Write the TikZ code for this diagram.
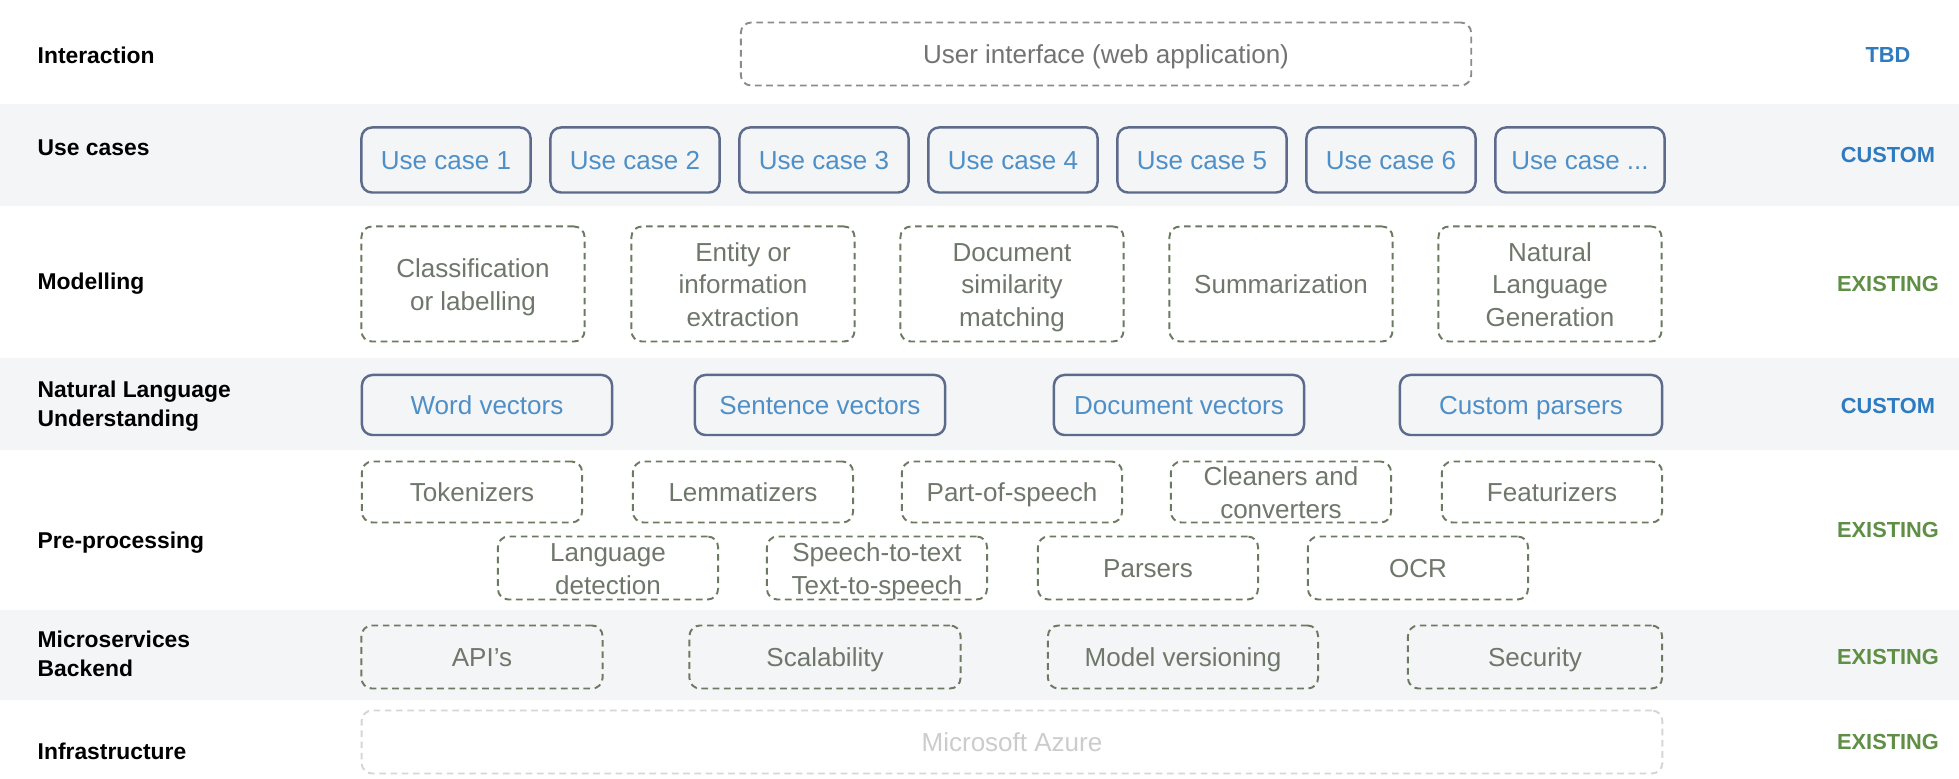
\documentclass[tikz,border=0pt]{standalone}
\usepackage{fontspec}
\setmainfont{Liberation Sans}
\definecolor{bandgray}{HTML}{F4F5F6}
\definecolor{exline}{HTML}{6C7A62}
\definecolor{extext}{HTML}{6F776B}
\definecolor{culine}{HTML}{5C6A8C}
\definecolor{cutext}{HTML}{4F8FC7}
\definecolor{tagblue}{HTML}{2E7BC0}
\definecolor{taggreen}{HTML}{5E8F45}
\definecolor{uiline}{HTML}{8C8C8C}
\definecolor{azline}{HTML}{D6D6D6}
\tikzset{
  layer/.style={anchor=west,inner sep=0pt,font=\fontsize{6.5}{8.5}\selectfont\bfseries},
  tag/.style={inner sep=0pt,font=\fontsize{6.2}{7.5}\selectfont\bfseries},
  boxtext/.style={inner sep=0pt,font=\fontsize{7.4}{9.25}\selectfont,text height=5.4pt,text depth=0pt},
  exbox/.style={boxtext,draw=exline,text=extext,dash pattern=on 1.9pt off 1.3pt,line width=0.55pt,rounded corners=3pt},
  cubox/.style={boxtext,draw=culine,text=cutext,line width=0.7pt,rounded corners=3pt},
}
\begin{document}
\begin{tikzpicture}[x=0.01cm,y=-0.01cm]
\useasboundingbox (0,0) rectangle (1959,779);
\fill[white] (0,0) rectangle (1959,779);
% grey bands
\fill[bandgray] (0,104) rectangle (1959,206);
\fill[bandgray] (0,358) rectangle (1959,450);
\fill[bandgray] (0,610) rectangle (1959,700);

% layer names
\node (LInt) at (37,55) [layer] {Interaction};
\node (LUse) at (37,148) [layer] {Use cases};
\node (LMod) at (37,284) [layer] {Modelling};
\node (LNLU) at (37,406) [layer] {\begin{tabular}{@{}l@{}}Natural Language\\ Understanding\end{tabular}};
\node (LPre) at (37,543) [layer] {Pre-processing};
\node (LMic) at (37,656) [layer] {\begin{tabular}{@{}l@{}}Microservices\\ Backend\end{tabular}};
\node (LInf) at (37,751) [layer] {Infrastructure};

% status
\node (TInt) at (1888,55) [tag,text=tagblue] {TBD};
\node (TUse) at (1888,155) [tag,text=tagblue] {CUSTOM};
\node (TMod) at (1888,284) [tag,text=taggreen] {EXISTING};
\node (TNLU) at (1888,406) [tag,text=tagblue] {CUSTOM};
\node (TPre) at (1888,530) [tag,text=taggreen] {EXISTING};
\node (TMic) at (1888,657) [tag,text=taggreen] {EXISTING};
\node (TInf) at (1888,742) [tag,text=taggreen] {EXISTING};

% interaction
\node (UI) at (1106,54) [exbox,draw=uiline,text=black!55,minimum width=7.3cm,minimum height=0.63cm] {User interface (web application)};

% use cases
\node (UC1) at (446,160) [cubox,minimum width=1.69cm,minimum height=0.65cm] {Use case 1};
\node (UC2) at (635,160) [cubox,minimum width=1.69cm,minimum height=0.65cm] {Use case 2};
\node (UC3) at (824,160) [cubox,minimum width=1.69cm,minimum height=0.65cm] {Use case 3};
\node (UC4) at (1013,160) [cubox,minimum width=1.69cm,minimum height=0.65cm] {Use case 4};
\node (UC5) at (1202,160) [cubox,minimum width=1.69cm,minimum height=0.65cm] {Use case 5};
\node (UC6) at (1391,160) [cubox,minimum width=1.69cm,minimum height=0.65cm] {Use case 6};
\node (UCN) at (1580,160) [cubox,minimum width=1.69cm,minimum height=0.65cm] {Use case ...};

% modelling
\node (MCla) at (473,284) [exbox,minimum width=2.23cm,minimum height=1.15cm] {\begin{tabular}{c}Classification\\ or labelling\end{tabular}};
\node (MEnt) at (743,284) [exbox,minimum width=2.23cm,minimum height=1.15cm] {\begin{tabular}{c}Entity or\\ information\\ extraction\end{tabular}};
\node (MDoc) at (1012,284) [exbox,minimum width=2.23cm,minimum height=1.15cm] {\begin{tabular}{c}Document\\ similarity\\ matching\end{tabular}};
\node (MSum) at (1281,284) [exbox,minimum width=2.23cm,minimum height=1.15cm] {Summarization};
\node (MNLG) at (1550,284) [exbox,minimum width=2.23cm,minimum height=1.15cm] {\begin{tabular}{c}Natural\\ Language\\ Generation\end{tabular}};

% natural language understanding
\node (NWord) at (487,405) [cubox,minimum width=2.5cm,minimum height=0.6cm] {Word vectors};
\node (NSent) at (820,405) [cubox,minimum width=2.5cm,minimum height=0.6cm] {Sentence vectors};
\node (NDoc) at (1179,405) [cubox,minimum width=2.5cm,minimum height=0.6cm] {Document vectors};
\node (NPar) at (1531,405) [cubox,minimum width=2.62cm,minimum height=0.6cm] {Custom parsers};

% pre-processing
\node (PTok) at (472,492) [exbox,minimum width=2.2cm,minimum height=0.61cm] {Tokenizers};
\node (PLem) at (743,492) [exbox,minimum width=2.2cm,minimum height=0.61cm] {Lemmatizers};
\node (PPos) at (1012,492) [exbox,minimum width=2.2cm,minimum height=0.61cm] {Part-of-speech};
\node (PCle) at (1281,492) [exbox,minimum width=2.2cm,minimum height=0.61cm] {\begin{tabular}{c}Cleaners and\\ converters\end{tabular}};
\node (PFea) at (1552,492) [exbox,minimum width=2.2cm,minimum height=0.61cm] {Featurizers};
\node (PLan) at (608,568) [exbox,minimum width=2.2cm,minimum height=0.63cm] {\begin{tabular}{c}Language\\ detection\end{tabular}};
\node (PSpe) at (877,568) [exbox,minimum width=2.2cm,minimum height=0.63cm] {\begin{tabular}{c}Speech-to-text\\ Text-to-speech\end{tabular}};
\node (PPrs) at (1148,568) [exbox,minimum width=2.2cm,minimum height=0.63cm] {Parsers};
\node (POcr) at (1418,568) [exbox,minimum width=2.2cm,minimum height=0.63cm] {OCR};

% microservices
\node (BApi) at (482,657) [exbox,minimum width=2.41cm,minimum height=0.63cm] {API's};
\node (BSca) at (825,657) [exbox,minimum width=2.71cm,minimum height=0.63cm] {Scalability};
\node (BVer) at (1183,657) [exbox,minimum width=2.7cm,minimum height=0.63cm] {Model versioning};
\node (BSec) at (1535,657) [exbox,minimum width=2.54cm,minimum height=0.63cm] {Security};

% infrastructure
\node (Azure) at (1012,742) [exbox,draw=azline,text=black!20,minimum width=13cm,minimum height=0.63cm] {Microsoft Azure};
\end{tikzpicture}
\end{document}
